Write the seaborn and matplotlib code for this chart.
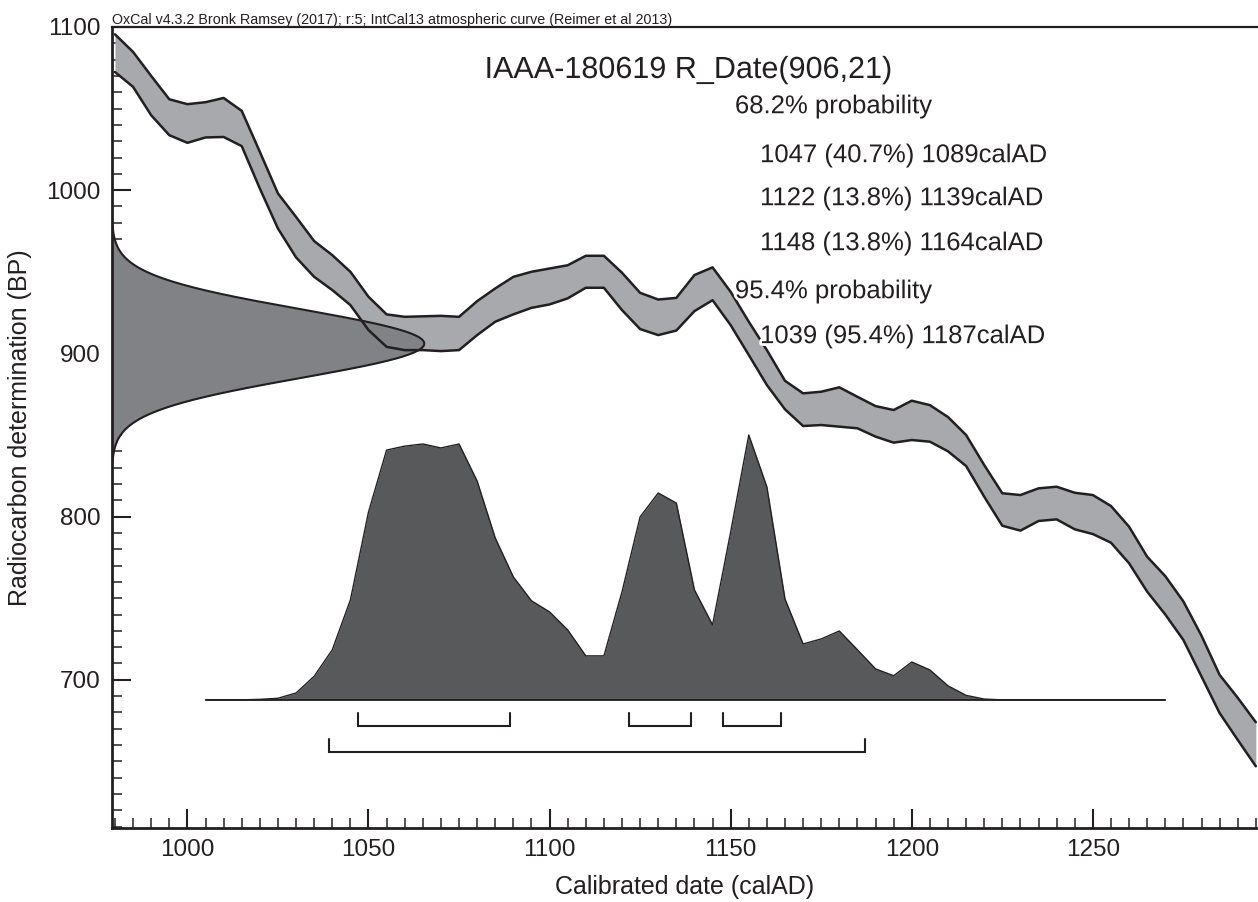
import numpy as np
import matplotlib
matplotlib.use("Agg")
import matplotlib.pyplot as plt
import matplotlib.patheffects as pe
from matplotlib.ticker import MultipleLocator
import seaborn as sns

# ---------------------------------------------------------------------------
# IntCal13 atmospheric calibration curve, 1-sigma envelope (years BP)
cal_years = list(range(980, 1300, 5))
curve_upper = [
    1095.5, 1084.7, 1070.0, 1055.7, 1052.7, 1053.9, 1056.5, 1048.6, 1023.5, 998.0,
    983.6, 968.8, 960.2, 950.0, 934.7, 923.9, 922.4, 922.7, 923.0, 922.4,
    932.0, 939.8, 946.9, 950.0, 952.0, 954.0, 959.8, 959.8, 949.4, 937.1,
    933.0, 934.0, 948.0, 952.7, 937.7, 919.4, 902.0, 883.2, 875.5, 876.5,
    879.2, 873.4, 867.7, 865.3, 871.0, 868.3, 861.0, 850.0, 831.6, 814.3,
    813.2, 817.3, 818.3, 814.6, 813.2, 806.5, 793.8, 775.4, 763.5, 748.0,
    727.0, 703.0, 689.0, 674.0,
]
curve_lower = [
    1072.4, 1063.3, 1045.9, 1033.7, 1029.0, 1032.3, 1032.6, 1027.0, 1001.0, 976.5,
    958.8, 946.9, 938.8, 929.6, 914.3, 904.0, 902.0, 902.0, 901.4, 902.0,
    911.2, 919.4, 923.9, 927.9, 930.0, 933.7, 940.2, 940.2, 926.5, 914.9,
    911.2, 914.0, 925.9, 932.6, 917.3, 899.0, 880.6, 865.7, 855.5, 856.1,
    855.1, 854.1, 849.0, 845.3, 846.9, 845.9, 840.0, 831.0, 812.2, 794.4,
    791.4, 797.3, 798.3, 792.2, 789.3, 784.0, 771.4, 754.0, 740.0, 724.4,
    702.0, 679.6, 663.2, 647.0,
]

# Radiocarbon measurement
sample_name = "IAAA-180619"
r_date = 906
r_error = 21

# Calibrated date distribution (relative probability, % of maximum)
post_years = list(range(1005, 1275, 5))
post_prob = [
    0, 0, 0, 0.2, 0.6, 2.6, 8.9, 18.9, 37.7, 70.9,
    94.3, 95.8, 96.6, 95.1, 96.6, 82.6, 61.1, 46.4, 37.4, 33.2,
    26.4, 16.6, 16.6, 40.8, 69.1, 78.1, 74.3, 41.5, 28.3, 63.4,
    100.0, 80.4, 38.1, 21.1, 23.0, 26.0, 18.9, 11.7, 9.1, 14.3,
    11.3, 5.3, 1.7, 0.3, 0, 0, 0, 0, 0, 0,
    0, 0, 0, 0,
]

# Highest posterior density ranges: (from, to, probability %)
ranges_68 = [(1047, 1089, 40.7), (1122, 1139, 13.8), (1148, 1164, 13.8)]
ranges_95 = [(1039, 1187, 95.4)]

header = ("OxCal v4.3.2 Bronk Ramsey (2017); r:5; "
          "IntCal13 atmospheric curve (Reimer et al 2013)")

# ---------------------------------------------------------------------------
sns.set_theme(style="ticks")
plt.rcParams["font.family"] = ["Liberation Sans", "DejaVu Sans"]

INK = "#231f20"
BAND = "#a7a9ac"
MEAS = "#808285"
POST = "#58595b"

XMIN, XMAX = 979.1, 1295.6
YMIN, YMAX = 609.0, 1100.0

fig = plt.figure(figsize=(12.58, 9.02), dpi=100)
ax = fig.add_axes([0.0888, 0.0817, 0.9112, 0.8884])
ax.set_xlim(XMIN, XMAX)
ax.set_ylim(YMIN, YMAX)

# calibration curve envelope (fill first, outlines on top of everything)
ax.fill_between(cal_years, curve_lower, curve_upper, color=BAND, lw=0, zorder=1)

# radiocarbon measurement as a normal distribution on the BP axis
bp = np.linspace(r_date - 3.5 * r_error, r_date + 3.5 * r_error, 400)
dens = np.exp(-0.5 * ((bp - r_date) / r_error) ** 2)
meas_width = 86.3  # years spanned by the peak of the measurement curve
ax.fill_betweenx(bp, XMIN, XMIN + dens * meas_width, color=MEAS, lw=0, zorder=2)
ax.plot(XMIN + dens * meas_width, bp, color=INK, lw=1.5, zorder=3)

# calibration curve outlines
sns.lineplot(x=cal_years, y=curve_upper, ax=ax, color=INK, lw=1.8,
             estimator=None, sort=False, zorder=4)
sns.lineplot(x=cal_years, y=curve_lower, ax=ax, color=INK, lw=1.8,
             estimator=None, sort=False, zorder=4)

# calibrated distribution
base = 687.7
scale = 162.3 / 100.0
post_y = [base + p * scale for p in post_prob]
ax.fill_between(post_years, base, post_y, color=POST, lw=0, zorder=5)
sns.lineplot(x=post_years, y=post_y, ax=ax, color=INK, lw=1.0,
             estimator=None, sort=False, zorder=6)
ax.plot([post_years[0], post_years[-1]], [base, base], color=INK, lw=1.3, zorder=6)

# range brackets
def bracket(lo, hi, y, h):
    ax.plot([lo, lo, hi, hi], [y + h, y, y, y + h], color=INK, lw=1.5,
            solid_joinstyle="miter", zorder=6)

for lo, hi, _ in ranges_68:
    bracket(lo, hi, 671.8, 7.8)
for lo, hi, _ in ranges_95:
    bracket(lo, hi, 656.0, 7.6)

# text block
halo = [pe.withStroke(linewidth=4, foreground="white")]
ax.text(0.503, 0.9463, f"{sample_name} R_Date({r_date},{r_error})",
        transform=ax.transAxes, ha="center", va="center", fontsize=22,
        color=INK, path_effects=halo, zorder=10)

lines = [("68.2% probability", 0.5437, 0.9011)]
ys68 = [0.8400, 0.7863, 0.7302]
for (lo, hi, p), yy in zip(ranges_68, ys68):
    lines.append((f"{lo} ({p}%) {hi}calAD", 0.5656, yy))
lines.append(("95.4% probability", 0.5437, 0.6703))
for lo, hi, p in ranges_95:
    lines.append((f"{lo} ({p}%) {hi}calAD", 0.5656, 0.6142))
for s, xx, yy in lines:
    ax.text(xx, yy, s, transform=ax.transAxes, ha="left", va="center",
            fontsize=18.5, color=INK, path_effects=halo, zorder=10)

ax.text(0.0, 1.004, header, transform=ax.transAxes, ha="left", va="baseline",
        fontsize=10.3, color=INK)

# axes styling
ax.xaxis.set_major_locator(MultipleLocator(50))
ax.xaxis.set_minor_locator(MultipleLocator(5))
ax.yaxis.set_major_locator(MultipleLocator(100))
ax.yaxis.set_minor_locator(MultipleLocator(10))
ax.tick_params(which="major", direction="in", length=14, width=1.5,
               colors=INK, labelsize=17.5, pad=8)
ax.tick_params(which="minor", direction="in", length=7, width=1.1, colors=INK)
ax.tick_params(axis="x", which="both", top=False, bottom=True)
ax.tick_params(axis="y", which="both", left=True, right=False)

for side in ("left", "bottom"):
    ax.spines[side].set_linewidth(2.0)
    ax.spines[side].set_color(INK)
ax.spines["top"].set_linewidth(1.6)
ax.spines["top"].set_color(INK)
ax.spines["right"].set_visible(False)

ax.set_xlabel("Calibrated date (calAD)", fontsize=18, color=INK, labelpad=10)
ax.set_ylabel("Radiocarbon determination (BP)", fontsize=18, color=INK, labelpad=10)

fig.savefig("out.png", dpi=100)
